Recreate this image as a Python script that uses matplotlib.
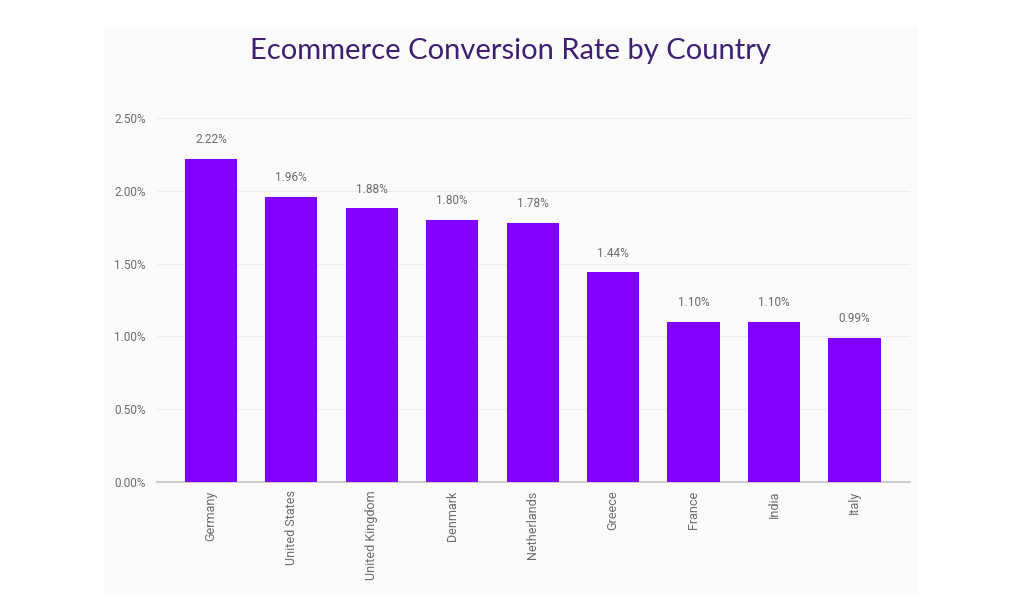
import matplotlib.pyplot as plt
from matplotlib.patches import Rectangle

countries = ['Germany', 'United States', 'United Kingdom', 'Denmark', 'Netherlands',
             'Greece', 'France', 'India', 'Italy']
rates = [2.22, 1.96, 1.88, 1.80, 1.78, 1.44, 1.10, 1.10, 0.99]
yticks = [0.0, 0.5, 1.0, 1.5, 2.0, 2.5]

plt.rcParams['font.family'] = ['Roboto', 'DejaVu Sans']

fig = plt.figure(figsize=(10.24, 6.14), dpi=100)
fig.patch.set_facecolor('white')
# light panel behind the chart
fig.patches.append(Rectangle((104 / 1024, 1 - 595 / 614), 814 / 1024, 568 / 614,
                             transform=fig.transFigure, facecolor='#fafafa',
                             edgecolor='none', zorder=-10))

ax = fig.add_axes([157 / 1024, 132 / 614, 753 / 1024, 364 / 614])
ax.set_facecolor('none')

x = range(len(countries))
ax.bar(x, rates, width=0.65, color='#8200ff', zorder=3)

for i, v in enumerate(rates):
    ax.annotate('%.2f%%' % v, (i, v), xytext=(0, 9), textcoords='offset points',
                ha='center', va='bottom', fontsize=8.5, color='#6b6b6b')

ax.set_xlim(-0.67, 8.69)
ax.set_ylim(0, 2.5)
ax.set_yticks(yticks)
ax.set_yticklabels(['%.2f%%' % t for t in yticks], fontsize=8.5, color='#6b6b6b')
ax.set_xticks(list(x))
ax.set_xticklabels(countries, rotation=90, fontsize=9, color='#6b6b6b')
ax.tick_params(length=0)
ax.tick_params(axis='y', pad=8)
ax.tick_params(axis='x', pad=6)

ax.grid(axis='y', color='#ededed', linewidth=0.8, zorder=0)
for s in ['top', 'right', 'left']:
    ax.spines[s].set_visible(False)
ax.spines['bottom'].set_color('#c4c4c4')
ax.spines['bottom'].set_linewidth(1.2)

fig.text(0.4985, 1 - 51 / 614, 'Ecommerce Conversion Rate by Country', ha='center', va='center',
         fontsize=21, color='#3f1f72', family=['Lato', 'DejaVu Sans'])

fig.savefig('out.png', dpi=100)
